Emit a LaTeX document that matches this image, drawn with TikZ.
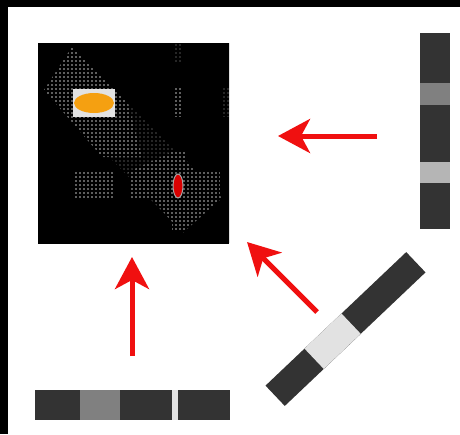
\documentclass[tikz,border=0pt]{standalone}
\usetikzlibrary{arrows.meta}
\definecolor{bardark}{HTML}{333333}
\definecolor{barmid}{HTML}{808080}
\definecolor{barlight}{HTML}{B5B5B5}
\definecolor{barpale}{HTML}{E2E2E2}
\definecolor{gridbright}{HTML}{5E5E5E}
\definecolor{griddim}{HTML}{262626}
\definecolor{blob}{HTML}{F5A011}
\definecolor{arrowcol}{HTML}{F01010}
\begin{document}
\begin{tikzpicture}[x=1pt,y=-1pt,
  seg/.style={rectangle, draw=none, inner sep=0pt, outer sep=0pt},
  bar/.style={seg, fill=bardark},
  redarrow/.style={draw=arrowcol, line width=5pt, -{Stealth[length=32pt,width=34pt,inset=9pt]}},
  gridline/.style={black, line width=1.1pt}]
\fill[white] (0,0) rectangle (460,434);
\useasboundingbox (0,0) rectangle (460,434);
\fill[black] (0,0) rectangle (460,7);
\fill[black] (0,0) rectangle (8,434);

% matrix
\node[seg, fill=black, minimum width=191pt, minimum height=200pt] (mat) at (133.5,143) {};
\begin{scope}
  \clip (38,43) rectangle (229,243);
  \fill[griddim] (72,47) -- (222,198) -- (183,233) -- (44,90) -- cycle;
  \fill[gridbright] (72,47) -- (128,103) -- (142,157) -- (102,157) -- (44,90) -- cycle;
  \fill[gridbright] (176,150) -- (222,198) -- (182,233) -- (128,172) -- cycle;
  \fill[gridbright] (172,152) rectangle (187,230);
  \fill[gridbright] (130,172) rectangle (220,200);
  \fill[gridbright] (73,172) rectangle (115,200);
  \fill[gridbright] (173,88) rectangle (183,117);
  \fill[griddim] (173,43) rectangle (183,62);
  \fill[griddim] (222,88) rectangle (229,117);
  \foreach \k in {38,42,...,230} {\draw[gridline] (\k,43) -- (\k,243);}
  \foreach \k in {43,47,...,243} {\draw[gridline] (38,\k) -- (229,\k);}
\end{scope}
\node[seg, fill=barpale, minimum width=42pt, minimum height=28pt] (orbox) at (94,103) {};
\fill[blob] (orbox.center) ellipse [x radius=20, y radius=10];
\coordinate (redspot) at (178,186);
\filldraw[fill=red!85!black, draw=gray!70, line width=1pt] (redspot) ellipse [x radius=5, y radius=12];

% right bar
\node[bar, minimum width=30pt, minimum height=196pt] (rbar) at (435,131) {};
\fill[barmid] (420,83) rectangle (450,105);
\fill[barlight] (420,162) rectangle (450,183);

% bottom bar
\node[bar, minimum width=195pt, minimum height=30pt] (bbar) at (132.5,405) {};
\fill[barmid] (80,390) rectangle (120,420);
\fill[barpale] (172,390) rectangle (178,420);

% diagonal bar
\node[bar, rotate=43.5, minimum width=194pt, minimum height=28pt] (dbar) at (345.5,329) {};
\node[seg, fill=barpale, rotate=43.5, minimum width=51pt, minimum height=28pt] (dseg) at (332.6,341.2) {};

% arrows
\coordinate (h1) at (377,136); \coordinate (h2) at (278,136);
\coordinate (v1) at (132,356); \coordinate (v2) at (132,257);
\coordinate (d1) at (317,312); \coordinate (d2) at (247,242);
\draw[redarrow] (h1) -- (h2);
\draw[redarrow] (v1) -- (v2);
\draw[redarrow] (d1) -- (d2);
\end{tikzpicture}
\end{document}
